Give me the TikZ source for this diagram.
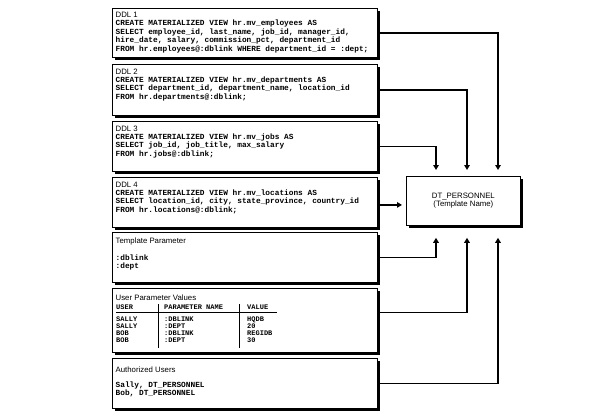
\documentclass[tikz,border=0pt]{standalone}
\usepackage{fontspec}
\setmainfont{Liberation Sans}
\newfontfamily\codefont{Liberation Mono}
\newfontfamily\headfont{Liberation Sans}
\usetikzlibrary{arrows.meta,shadows}
\newcommand\hd[1]{{\headfont\mdseries\fontsize{7.8}{8.4}\selectfont #1}}
\begin{document}
\begin{tikzpicture}[x=1pt,y=-1pt,
  panel/.style={draw=black, line width=0.8pt, fill=white, anchor=north west,
    minimum width=265pt, inner sep=0pt,
    drop shadow={fill=black, opacity=1, shadow xshift=3pt, shadow yshift=-3pt}},
  code/.style={anchor=north west, inner sep=0pt, align=left,
    font=\codefont\bfseries\fontsize{7.8}{8.4}\selectfont},
  tab/.style={anchor=west, inner sep=0pt, align=left,
    font=\codefont\bfseries\fontsize{7}{7}\selectfont},
  head/.style={anchor=west, inner sep=0pt, font=\headfont\fontsize{7.8}{8}\selectfont},
  conn/.style={line width=1.6pt, -{Triangle[width=5.5pt,length=5pt]}},
  rule/.style={line width=0.7pt}
]
\fill[white] (0,0) rectangle (600,418);
\useasboundingbox (0,0) rectangle (600,418);

% panels
\node[panel, minimum height=49pt] (b1) at (112,8) {};
\node[panel, minimum height=51pt] (b2) at (112,64) {};
\node[panel, minimum height=50pt] (b3) at (112,121) {};
\node[panel, minimum height=50pt] (b4) at (112,177) {};
\node[panel, minimum height=50pt] (b5) at (112,232) {};
\node[panel, minimum height=64pt] (b6) at (112,288) {};
\node[panel, minimum height=50pt] (b7) at (112,358) {};

\node[panel, minimum width=114pt, minimum height=49pt, align=center,
  font=\headfont\fontsize{7.8}{8}\selectfont] (dt) at (406,176)
  {DT\_PERSONNEL\\(Template Name)};

% texts
\node[code] (t1) at ([xshift=3.5pt,yshift=-4pt]b1.north west)
 {\hd{DDL 1}\\
  CREATE MATERIALIZED VIEW hr.mv\_employees AS\\
  SELECT employee\_id, last\_name, job\_id, manager\_id,\\
  hire\_date, salary, commission\_pct, department\_id\\
  FROM hr.employees@:dblink WHERE department\_id = :dept;};
\node[code] (t2) at ([xshift=3.5pt,yshift=-4.5pt]b2.north west)
 {\hd{DDL 2}\\
  CREATE MATERIALIZED VIEW hr.mv\_departments AS\\
  SELECT department\_id, department\_name, location\_id\\
  FROM hr.departments@:dblink;};
\node[code] (t3) at ([xshift=3.5pt,yshift=-4.5pt]b3.north west)
 {\hd{DDL 3}\\
  CREATE MATERIALIZED VIEW hr.mv\_jobs AS\\
  SELECT job\_id, job\_title, max\_salary\\
  FROM hr.jobs@:dblink;};
\node[code] (t4) at ([xshift=3.5pt,yshift=-4.5pt]b4.north west)
 {\hd{DDL 4}\\
  CREATE MATERIALIZED VIEW hr.mv\_locations AS\\
  SELECT location\_id, city, state\_province, country\_id\\
  FROM hr.locations@:dblink;};
\node[code] (t5) at ([xshift=3.5pt,yshift=-5.5pt]b5.north west)
 {\hd{Template Parameter}\\[8.5pt]
  :dblink\\
  :dept};

% user parameter table
\node[head] (h6) at (115.5,298) {User Parameter Values};
\node[tab] (uh) at (116,307) {USER};
\node[tab] (ph) at (164,307) {PARAMETER NAME};
\node[tab] (vh) at (247,307) {VALUE};
\draw[rule] (116,312) -- (277,312);
\draw[rule] (158,304) -- (158,348);
\draw[rule] (239,304) -- (239,348);
\node[tab] (uc) at (116,329.5) {SALLY\\SALLY\\BOB\\BOB};
\node[tab] (pc) at (164,329.5) {:DBLINK\\:DEPT\\:DBLINK\\:DEPT};
\node[tab] (vc) at (247,329.5) {HQDB\\20\\REGIDB\\30};

\node[code] (t7) at ([xshift=3.5pt,yshift=-8.5pt]b7.north west)
 {\hd{Authorized Users}\\[6.7pt]
  Sally, DT\_PERSONNEL\\
  Bob, DT\_PERSONNEL};

% connectors
\coordinate (a1) at ([xshift=92pt,yshift=6pt]dt.north west);
\coordinate (a2) at ([xshift=61pt,yshift=6pt]dt.north west);
\coordinate (a3) at ([xshift=30pt,yshift=6pt]dt.north west);
\coordinate (u1) at ([xshift=30pt,yshift=-12pt]dt.south west);
\coordinate (u2) at ([xshift=61pt,yshift=-12pt]dt.south west);
\coordinate (u3) at ([xshift=92pt,yshift=-12pt]dt.south west);
\coordinate (a4) at ([xshift=-4pt,yshift=-4pt]dt.west);

\draw[conn] (b1.east) -| (a1);
\draw[conn] (b2.east) -| (a2);
\draw[conn] (b3.east) -| (a3);
\draw[conn] (b4.east |- a4) -- (a4);
\draw[conn] (b5.east) -| (u1);
\draw[conn] ([yshift=8pt]b6.east) -| (u2);
\draw[conn] (b7.east) -| (u3);
\end{tikzpicture}
\end{document}
